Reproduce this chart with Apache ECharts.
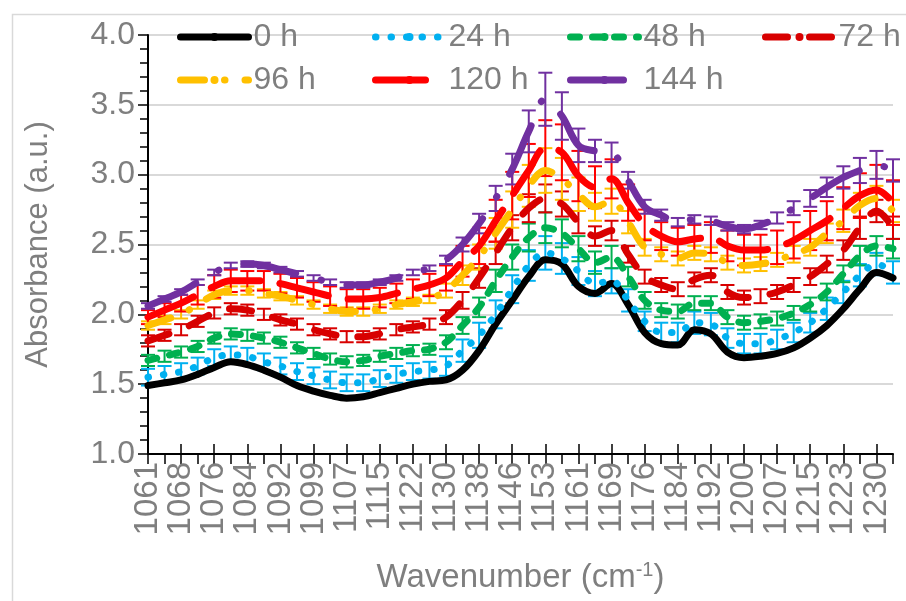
<!DOCTYPE html>
<html><head><meta charset="utf-8">
<script src="https://cdn.jsdelivr.net/npm/echarts@6/dist/echarts.min.js"></script>
<style>html,body{margin:0;padding:0;background:#fff}#c{width:906px;height:601px}</style>
</head><body><div id="c"></div>
<script>
// Categories (wavenumber, cm-1)
const wavenumbers = ['1061','1065','1068','1072','1076','1080','1084','1088','1092','1095','1099','1103','1107','1111','1115','1119','1122','1126','1130','1134','1138','1142','1146','1149','1153','1157','1161','1165','1169','1172','1176','1180','1184','1188','1192','1196','1200','1203','1207','1211','1215','1219','1223','1226','1230','1234'];

// Series values (absorbance)
const h0   = [1.49,1.51,1.53,1.57,1.62,1.66,1.64,1.60,1.55,1.49,1.45,1.42,1.40,1.41,1.44,1.47,1.50,1.52,1.53,1.60,1.74,1.93,2.10,2.27,2.39,2.36,2.20,2.15,2.22,2.07,1.87,1.79,1.78,1.89,1.86,1.73,1.69,1.70,1.72,1.76,1.83,1.92,2.04,2.18,2.30,2.26];
const h24  = [1.55,1.57,1.59,1.63,1.69,1.71,1.70,1.66,1.63,1.59,1.56,1.53,1.51,1.51,1.54,1.57,1.59,1.60,1.63,1.74,1.85,2.00,2.18,2.35,2.44,2.40,2.31,2.22,2.24,2.10,1.95,1.87,1.87,1.94,1.93,1.83,1.79,1.79,1.82,1.87,1.94,2.04,2.16,2.28,2.36,2.30];
const h48  = [1.67,1.70,1.73,1.77,1.83,1.86,1.85,1.83,1.80,1.76,1.72,1.68,1.66,1.67,1.70,1.72,1.74,1.75,1.80,1.92,2.05,2.24,2.41,2.55,2.62,2.58,2.47,2.37,2.41,2.27,2.10,2.03,2.02,2.08,2.08,1.98,1.94,1.95,1.97,2.01,2.07,2.16,2.29,2.42,2.49,2.47];
const h72  = [1.81,1.85,1.89,1.95,2.01,2.04,2.03,2.00,1.96,1.93,1.89,1.86,1.84,1.84,1.86,1.89,1.91,1.93,1.98,2.10,2.26,2.44,2.62,2.76,2.83,2.79,2.66,2.56,2.60,2.43,2.27,2.21,2.18,2.25,2.28,2.16,2.12,2.13,2.16,2.21,2.27,2.36,2.46,2.62,2.74,2.62];
const h96  = [1.92,1.96,2.00,2.07,2.14,2.17,2.17,2.15,2.13,2.10,2.07,2.04,2.02,2.02,2.04,2.07,2.09,2.11,2.17,2.28,2.41,2.58,2.75,2.92,3.03,2.97,2.86,2.77,2.81,2.66,2.48,2.43,2.40,2.44,2.43,2.37,2.35,2.36,2.39,2.43,2.48,2.58,2.67,2.78,2.83,2.74];
const h120 = [1.98,2.03,2.08,2.14,2.20,2.24,2.24,2.24,2.22,2.19,2.16,2.13,2.11,2.11,2.12,2.15,2.18,2.21,2.26,2.38,2.49,2.67,2.85,3.03,3.19,3.16,2.99,2.91,2.97,2.80,2.64,2.56,2.52,2.54,2.55,2.49,2.46,2.46,2.48,2.53,2.60,2.67,2.76,2.85,2.89,2.80];
const h144 = [2.06,2.11,2.16,2.23,2.30,2.35,2.36,2.35,2.32,2.29,2.26,2.23,2.21,2.21,2.23,2.26,2.30,2.33,2.39,2.50,2.65,2.83,3.04,3.31,3.54,3.42,3.21,3.17,3.16,2.96,2.77,2.71,2.66,2.68,2.67,2.63,2.61,2.64,2.69,2.76,2.83,2.91,2.98,3.03,3.07,3.03];

// Error bar half-widths
const e24  = [0.06,0.06,0.06,0.06,0.06,0.06,0.06,0.06,0.06,0.06,0.06,0.06,0.06,0.06,0.06,0.06,0.06,0.06,0.07,0.08,0.09,0.10,0.10,0.11,0.12,0.11,0.10,0.09,0.09,0.08,0.07,0.07,0.07,0.08,0.08,0.07,0.07,0.07,0.07,0.07,0.07,0.08,0.08,0.08,0.08,0.08];
const e48  = [0.04,0.04,0.04,0.04,0.04,0.04,0.04,0.04,0.04,0.04,0.04,0.04,0.04,0.04,0.04,0.04,0.04,0.04,0.05,0.06,0.07,0.08,0.09,0.10,0.11,0.10,0.09,0.08,0.08,0.07,0.06,0.05,0.05,0.05,0.05,0.05,0.05,0.05,0.05,0.05,0.05,0.06,0.06,0.07,0.07,0.07];
const e72  = [0.04,0.04,0.04,0.04,0.04,0.04,0.04,0.04,0.04,0.04,0.04,0.04,0.04,0.04,0.04,0.04,0.04,0.04,0.05,0.06,0.07,0.08,0.09,0.10,0.10,0.09,0.08,0.07,0.07,0.06,0.05,0.05,0.05,0.05,0.05,0.05,0.05,0.05,0.05,0.05,0.06,0.06,0.07,0.08,0.08,0.08];
const e96  = [0.03,0.03,0.03,0.03,0.03,0.03,0.03,0.03,0.03,0.03,0.03,0.03,0.03,0.03,0.03,0.03,0.03,0.03,0.05,0.07,0.09,0.11,0.13,0.15,0.16,0.15,0.12,0.10,0.09,0.08,0.06,0.05,0.05,0.05,0.05,0.05,0.05,0.05,0.05,0.06,0.06,0.07,0.08,0.09,0.09,0.08];
const e120 = [0.05,0.05,0.06,0.07,0.08,0.08,0.07,0.07,0.07,0.07,0.07,0.07,0.07,0.07,0.07,0.07,0.07,0.08,0.09,0.11,0.13,0.15,0.17,0.19,0.20,0.20,0.18,0.15,0.14,0.13,0.11,0.10,0.10,0.10,0.11,0.11,0.11,0.11,0.12,0.13,0.14,0.14,0.15,0.16,0.18,0.16];
const e144 = [0.02,0.02,0.02,0.02,0.02,0.02,0.02,0.02,0.02,0.02,0.02,0.02,0.02,0.02,0.02,0.02,0.02,0.02,0.03,0.05,0.07,0.09,0.11,0.15,0.19,0.17,0.12,0.08,0.07,0.06,0.05,0.04,0.03,0.03,0.03,0.03,0.03,0.03,0.04,0.05,0.06,0.07,0.08,0.09,0.10,0.08];

const seriesNames = ['0 h','24 h','48 h','72 h','96 h','120 h','144 h'];
const yTicks = {min: 1.0, max: 4.0, interval: 0.5};

const FONT = "'Liberation Sans', Arial, sans-serif";
const GRAY = '#7f7f7f';
const W = 7;

const defs = [
  {name: seriesNames[0], data: h0,   err: null, color: '#000000', dash: 'solid'},
  {name: seriesNames[1], data: h24,  err: e24,  color: '#00B0F0', dash: [0.5, 15]},
  {name: seriesNames[2], data: h48,  err: e48,  color: '#00B050', dash: [9, 13]},
  {name: seriesNames[3], data: h72,  err: e72,  color: '#D80000', dash: [22, 22]},
  {name: seriesNames[4], data: h96,  err: e96,  color: '#FFC000', dash: [24, 20, 0.5, 20]},
  {name: seriesNames[5], data: h120, err: e120, color: '#FF0000', dash: [50, 20]},
  {name: seriesNames[6], data: h144, err: e144, color: '#7030A0', dash: [53, 26, 0.5, 26]}
];

const series = [];
defs.forEach(function (d) {
  if (d.err) {
    series.push({
      type: 'custom',
      name: d.name + ' error',
      silent: true,
      data: d.data.map(function (v, i) { return [i, v, d.err[i]]; }),
      encode: {x: 0, y: 1},
      renderItem: function (params, api) {
        const i = api.value(0), v = api.value(1), e = api.value(2);
        const top = api.coord([i, v + e]);
        const bot = api.coord([i, v - e]);
        const hw = 7;
        const st = {stroke: d.color, lineWidth: 2};
        return {type: 'group', children: [
          {type: 'line', shape: {x1: top[0], y1: top[1], x2: bot[0], y2: bot[1]}, style: st},
          {type: 'line', shape: {x1: top[0] - hw, y1: top[1], x2: top[0] + hw, y2: top[1]}, style: st},
          {type: 'line', shape: {x1: bot[0] - hw, y1: bot[1], x2: bot[0] + hw, y2: bot[1]}, style: st}
        ]};
      }
    });
  }
  series.push({
    type: 'line',
    name: d.name,
    data: d.data,
    smooth: 0.35,
    symbol: 'none',
    showSymbol: false,
    itemStyle: {color: d.color},
    lineStyle: {color: d.color, width: W, type: d.dash, cap: 'round', join: 'round'}
  });
});

const legendPos = [[172, 16], [367, 16], [562, 16], [757, 16], [172, 59], [367, 59], [562, 59]];
const legends = seriesNames.map(function (n, k) {
  return {
    data: [n],
    left: legendPos[k][0], top: legendPos[k][1],
    itemWidth: 68, itemHeight: 10,
    selectedMode: false,
    lineStyle: {width: W},
    textStyle: {fontSize: 32, color: GRAY, fontFamily: FONT, lineHeight: 32}
  };
});

const chart = echarts.init(document.getElementById('c'), null, {renderer: 'canvas'});
chart.setOption({
  animation: false,
  backgroundColor: '#ffffff',
  textStyle: {fontFamily: FONT},
  graphic: [{type: 'rect', left: 10, top: 12, shape: {x: 0, y: 0, width: 950, height: 650}, style: {fill: 'none', stroke: '#d9d9d9', lineWidth: 1.5}, z: -10}],
  legend: legends,
  grid: {left: 148, right: 13, top: 35, bottom: 147, containLabel: false, outerBoundsMode: 'none'},
  xAxis: [{
    type: 'category', data: wavenumbers, boundaryGap: false,
    axisLine: {lineStyle: {color: '#000', width: 2}},
    axisTick: {interval: 0, length: 10, lineStyle: {color: '#000', width: 1.5}},
    axisLabel: {interval: 1, rotate: 90, fontSize: 33, color: GRAY, margin: 8, fontFamily: FONT},
    splitLine: {show: false},
    name: 'Wavenumber (cm{sup|-1})', nameLocation: 'middle', nameGap: 106,
    nameTextStyle: {fontSize: 33, color: GRAY, fontFamily: FONT,
      rich: {sup: {fontSize: 20, color: GRAY, fontFamily: FONT, padding: [0, 0, 16, 0]}}}
  }, {
    type: 'category', data: wavenumbers, boundaryGap: false, position: 'bottom',
    axisLine: {show: false},
    axisTick: {inside: true, interval: 1, length: 10, lineStyle: {color: '#000', width: 1.5}},
    axisLabel: {show: false}, splitLine: {show: false}
  }],
  yAxis: {
    type: 'value', min: yTicks.min, max: yTicks.max, interval: yTicks.interval,
    axisLine: {show: true, lineStyle: {color: '#000', width: 2}},
    axisTick: {show: true, length: 10, lineStyle: {color: '#000', width: 1.5}},
    minorTick: {show: true, splitNumber: 5, length: 8, lineStyle: {color: '#000', width: 1.5}},
    splitLine: {lineStyle: {color: '#d9d9d9', width: 2}},
    axisLabel: {fontSize: 32, color: GRAY, margin: 13, fontFamily: FONT, formatter: function (v) { return v.toFixed(1); }},
    name: 'Absorbance (a.u.)', nameLocation: 'middle', nameGap: 94, nameRotate: 90,
    nameTextStyle: {fontSize: 31, color: GRAY, fontFamily: FONT}
  },
  series: series
});
</script></body></html>
